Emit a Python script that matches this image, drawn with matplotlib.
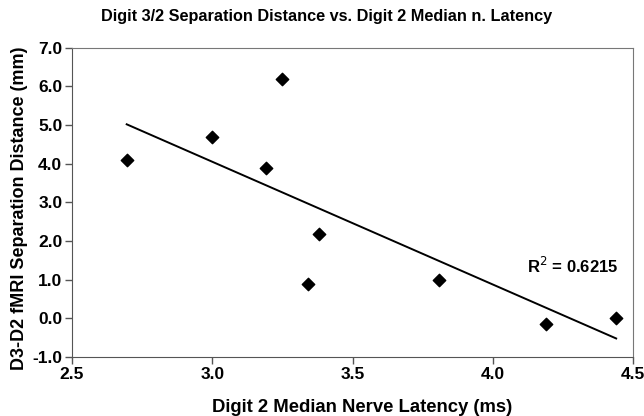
import numpy as np
import matplotlib
matplotlib.use("Agg")
import matplotlib.pyplot as plt

plt.rcParams['font.family'] = ['Liberation Sans', 'DejaVu Sans']

latency = [2.695, 3.00, 3.19, 3.25, 3.34, 3.38, 3.81, 4.19, 4.44]
separation = [4.10, 4.70, 3.90, 6.20, 0.90, 2.17, 1.00, -0.15, 0.00]
r2_text = "R$^2$ = 0.6215"
title = "Digit 3/2 Separation Distance vs. Digit 2 Median n. Latency"
xlabel = "Digit 2 Median Nerve Latency (ms)"
ylabel = "D3-D2 fMRI Separation Distance (mm)"
xticks = [2.5, 3.0, 3.5, 4.0, 4.5]
yticks = [-1.0, 0.0, 1.0, 2.0, 3.0, 4.0, 5.0, 6.0, 7.0]

fig = plt.figure(figsize=(6.44, 4.16), dpi=100)
ax = fig.add_axes([72/644, 1-357/416, (633-72)/644, (357-47.7)/416])

ax.scatter(latency, separation, marker='D', s=40, color='black', zorder=3)

x = np.array(latency)
y = np.array(separation)
slope, intercept = np.polyfit(x, y, 1)
xl = np.array([x.min(), x.max()])
ax.plot(xl, slope*xl + intercept, color='black', lw=1.4)

ax.set_xlim(2.5, 4.5)
ax.set_ylim(-1.0, 7.0)
ax.set_xticks(xticks)
ax.set_yticks(yticks)
ax.set_xticklabels([f"{v:.1f}" for v in xticks], fontsize=12.5, fontweight='bold')
ax.set_yticklabels([f"{v:.1f}" for v in yticks], fontsize=12.5, fontweight='bold')
ax.tick_params(direction='out', length=5, width=1, color='#555555', pad=2)

for s in ['left', 'bottom']:
    ax.spines[s].set_color('#555555')
for s in ['top', 'right']:
    ax.spines[s].set_color('#777777')

ax.text(4.447, 1.35, r2_text, ha='right', va='center', fontsize=12, fontweight='bold')

ax.set_xlabel(xlabel, fontsize=13.3, fontweight='bold')
ax.xaxis.label.set_va('center')
ax.xaxis.set_label_coords((362-72)/561, (357-407)/309.3)
ax.set_ylabel(ylabel, fontsize=13, fontweight='bold')
ax.yaxis.label.set_va('center')
ax.yaxis.set_label_coords((20-72)/561, (357-208)/309.3)
fig.text(327/644, 1-17/416, title, ha='center', va='center', fontsize=11.7, fontweight='bold')

fig.savefig("out.png", dpi=100)
